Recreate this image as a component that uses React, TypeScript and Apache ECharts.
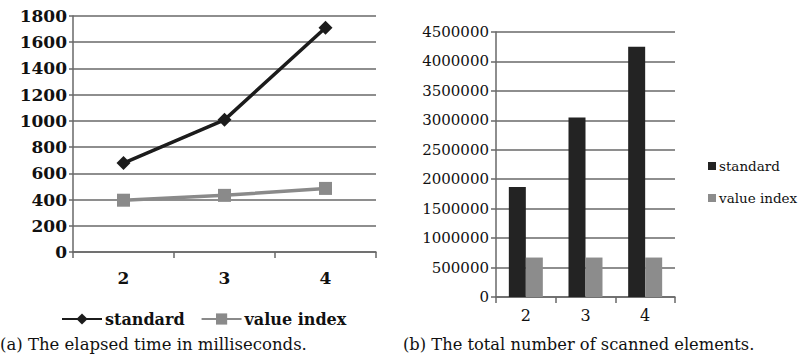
import React, { useEffect, useRef } from "react";
import * as echarts from "echarts";

const categories = ["2", "3", "4"];
const timeStandard = [678, 1008, 1710];
const timeValueIndex = [395, 432, 485];
const scannedStandard = [1870000, 3050000, 4250000];
const scannedValueIndex = [670000, 670000, 670000];
const timeTicks = { min: 0, max: 1800, interval: 200 };
const scannedTicks = { min: 0, max: 4500000, interval: 500000 };
const captionA = "(a) The elapsed time in milliseconds.";
const captionB = "(b) The total number of scanned elements.";

const SERIF = "DejaVu Serif";
const GRID_COLOR = "#686868";

export default function App() {
  const ref = useRef<HTMLDivElement>(null);
  useEffect(() => {
    if (!ref.current) return;
    const chart = echarts.init(ref.current, null, { renderer: "svg" });
    const axisLine = { show: true, lineStyle: { color: GRID_COLOR, width: 1.5 } };
    const splitLine = { show: true, lineStyle: { color: GRID_COLOR, width: 1.5 } };
    const plain = (v: number) => String(v);
    chart.setOption({
      animation: false,
      backgroundColor: "#ffffff",
      grid: [
        { left: 73, right: 425, top: 16, bottom: 107, containLabel: false },
        { left: 496, right: 126, top: 32, bottom: 62, containLabel: false },
      ],
      legend: [
        {
          data: ["standard", "value index"].map((n) => ({ name: n })),
          left: 56,
          top: 306,
          orient: "horizontal",
          itemWidth: 40,
          itemHeight: 14,
          itemGap: 16,
          textStyle: { fontFamily: SERIF, fontWeight: "bold", fontSize: 16, color: "#111", padding: [0, 0, 0, -2] },
          selectedMode: false,
        },
        {
          data: [
            { name: "standard ", icon: "rect" },
            { name: "value index ", icon: "rect" },
          ],
          left: 703,
          top: 154,
          orient: "vertical",
          itemWidth: 8,
          itemHeight: 8,
          itemGap: 18,
          itemStyle: { borderWidth: 0 },
          textStyle: { fontFamily: SERIF, fontSize: 13.5, color: "#111", padding: [0, 0, 0, -2] },
          selectedMode: false,
        },
      ],
      xAxis: [
        {
          type: "category",
          gridIndex: 0,
          data: categories,
          boundaryGap: true,
          axisLine,
          axisTick: { show: true, length: 6, lineStyle: { color: GRID_COLOR, width: 1.5 } },
          axisLabel: { margin: 17, fontFamily: SERIF, fontWeight: "bold", fontSize: 17, color: "#111" },
        },
        {
          type: "category",
          gridIndex: 1,
          data: categories,
          boundaryGap: true,
          axisLine,
          axisTick: { show: true, length: 6, lineStyle: { color: GRID_COLOR, width: 1.5 } },
          axisLabel: { margin: 10, fontFamily: SERIF, fontSize: 16, color: "#111" },
        },
      ],
      yAxis: [
        {
          type: "value",
          gridIndex: 0,
          min: timeTicks.min,
          max: timeTicks.max,
          interval: timeTicks.interval,
          axisLine,
          axisTick: { show: true, length: 4, lineStyle: { color: GRID_COLOR, width: 1.5 } },
          splitLine,
          axisLabel: { margin: 6, formatter: plain, fontFamily: SERIF, fontWeight: "bold", fontSize: 17, color: "#111" },
        },
        {
          type: "value",
          gridIndex: 1,
          min: scannedTicks.min,
          max: scannedTicks.max,
          interval: scannedTicks.interval,
          axisLine,
          axisTick: { show: true, length: 5, lineStyle: { color: GRID_COLOR, width: 1.5 } },
          splitLine,
          axisLabel: { margin: 7, formatter: plain, fontFamily: SERIF, fontSize: 15, color: "#111" },
        },
      ],
      series: [
        {
          name: "standard",
          type: "line",
          xAxisIndex: 0,
          yAxisIndex: 0,
          data: timeStandard,
          symbol: "diamond",
          symbolSize: 14,
          lineStyle: { color: "#1c1c1c", width: 3.5 },
          itemStyle: { color: "#1c1c1c" },
        },
        {
          name: "value index",
          type: "line",
          xAxisIndex: 0,
          yAxisIndex: 0,
          data: timeValueIndex,
          symbol: "rect",
          symbolSize: 13,
          lineStyle: { color: "#8a8a8a", width: 3.5 },
          itemStyle: { color: "#8a8a8a" },
        },
        {
          name: "standard ",
          type: "bar",
          xAxisIndex: 1,
          yAxisIndex: 1,
          data: scannedStandard,
          barWidth: 17,
          barGap: "0%",
          itemStyle: { color: "#232323" },
        },
        {
          name: "value index ",
          type: "bar",
          xAxisIndex: 1,
          yAxisIndex: 1,
          data: scannedValueIndex,
          barWidth: 17,
          barGap: "0%",
          itemStyle: { color: "#8c8c8c" },
        },
      ],
      graphic: [
        {
          type: "text",
          left: 0,
          top: 336,
          style: { text: captionA, fontFamily: SERIF, fontSize: 16.5, fill: "#111" },
        },
        {
          type: "text",
          left: 403,
          top: 336,
          style: { text: captionB, fontFamily: SERIF, fontSize: 16.3, fill: "#111" },
        },
      ],
    });
    return () => chart.dispose();
  }, []);
  return (
    <div
      ref={ref}
      style={{ position: "fixed", left: 0, top: 0, width: 801, height: 359 }}
    />
  );
}
